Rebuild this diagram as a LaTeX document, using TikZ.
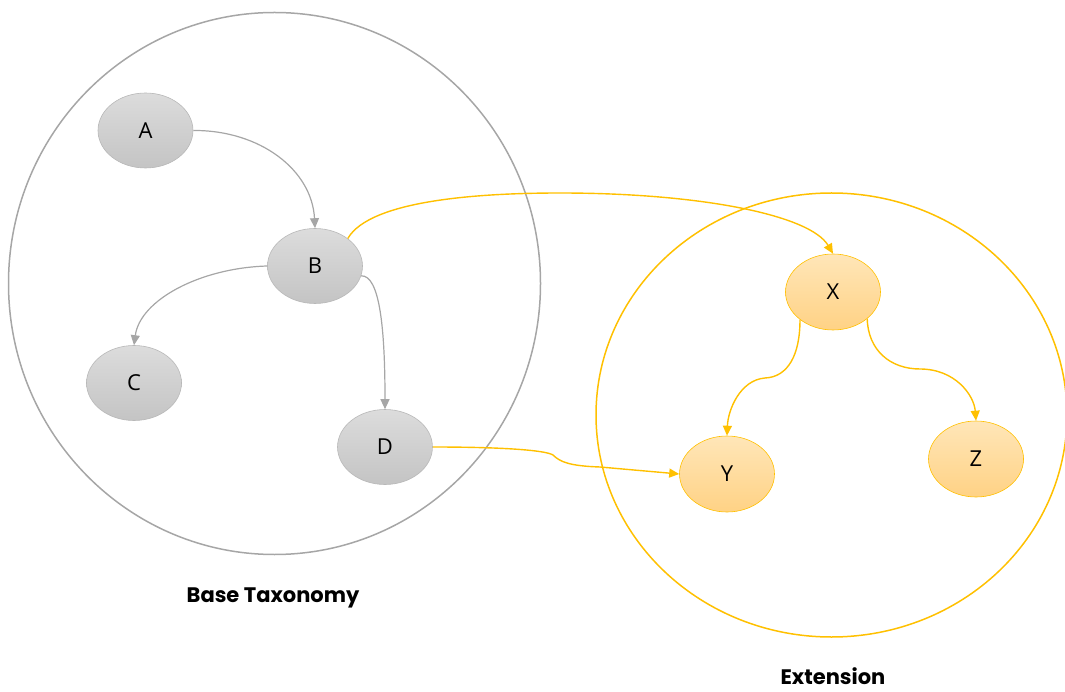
\documentclass[tikz,border=0pt]{standalone}
\usepackage{fontspec}
\setmainfont{Open Sans}
\newfontfamily\labfont{Poppins}
\usetikzlibrary{arrows.meta,shapes.geometric}
\definecolor{gedge}{HTML}{A6A6A6}
\definecolor{gtop}{HTML}{DCDCDC}
\definecolor{gbot}{HTML}{C4C4C4}
\definecolor{yedge}{HTML}{FFC000}
\definecolor{ytop}{HTML}{FFE6B8}
\definecolor{ybot}{HTML}{FFD285}
\tikzset{
  gnode/.style={ellipse, minimum width=95pt, minimum height=75pt, draw=gedge!80, line width=0.6pt,
    top color=gtop, bottom color=gbot, font=\fontsize{22}{22}\selectfont, inner sep=0pt},
  ynode/.style={ellipse, minimum width=95pt, minimum height=76pt, draw=yedge, line width=0.6pt,
    top color=ytop, bottom color=ybot, font=\fontsize{22}{22}\selectfont, inner sep=0pt},
  garrow/.style={draw=gedge, line width=1.2pt, -{Triangle[length=10pt,width=9pt]}},
  yarrow/.style={draw=yedge, line width=1.4pt, -{Triangle[length=10pt,width=9pt]}},
  caption/.style={font=\labfont\bfseries\fontsize{21}{21}\selectfont, inner sep=0pt}
}
\begin{document}
\begin{tikzpicture}[x=1pt,y=-1pt]
\useasboundingbox (0,0) rectangle (1065,692);
% outer circles
\draw[gedge, line width=1.5pt] (274.5,283.5) ellipse [x radius=266, y radius=271];
\draw[yedge, line width=1.5pt] (831.5,415) ellipse [x radius=235.5, y radius=222];
% nodes
\node[gnode] (A) at (145.5,130.5) {A};
\node[gnode] (B) at (315,266) {B};
\node[gnode] (C) at (134,383) {C};
\node[gnode] (D) at (385,447) {D};
\node[ynode] (X) at (833,292) {X};
\node[ynode] (Y) at (727,474) {Y};
\node[ynode] (Z) at (976,459) {Z};
% gray edges
\draw[garrow] (A.east) .. controls (260,130) and (312,170) .. (B.north);
\draw[garrow] (B.west) .. controls (200,268) and (140,300) .. (C.north);
\draw[garrow] (B.-12) .. controls (380,275) and (385,330) .. (D.north);
% yellow edges
\draw[yarrow] (B.40) .. controls (370,200) and (480,193) .. (560,193)
  .. controls (700,193) and (810,215) .. (X.north);
\draw[yarrow] (D.east) .. controls (500,447) and (545,450) .. (553,455)
  .. controls (560,462) and (570,466) .. (600,467) -- (Y.west);
\draw[yarrow] (X.-140) .. controls (800,355) and (788,377) .. (765,378)
  .. controls (740,380) and (728,410) .. (Y.north);
\draw[yarrow] (X.-38) .. controls (868,350) and (890,369) .. (920,369)
  .. controls (955,369) and (974,395) .. (Z.north);
% captions
\node[caption] (bt) at (273,598) {Base Taxonomy};
\node[caption] (ext) at (833,676) {Extension};
\end{tikzpicture}
\end{document}
